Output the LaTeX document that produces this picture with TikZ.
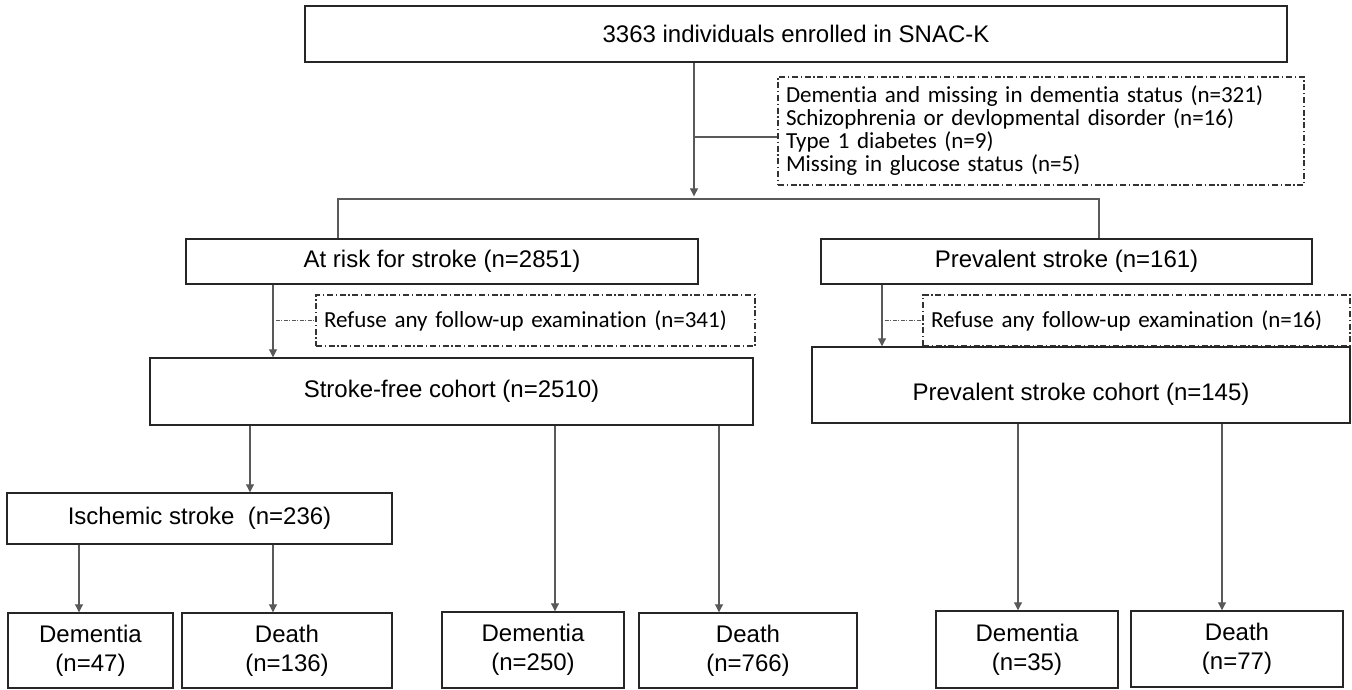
\documentclass[tikz,border=0pt]{standalone}
\usepackage{fontspec}
\setmainfont{Liberation Sans}
\newfontfamily\calfont[Ligatures=NoCommon]{Carlito}
\usetikzlibrary{arrows.meta}
\begin{document}
\begin{tikzpicture}[x=0.75pt,y=-0.75pt,
  box/.style={draw=black!85, line width=1.1pt, fill=white, inner sep=0pt,
    font=\fontsize{18}{21.5}\selectfont, align=center},
  dbox/.style={draw=black!80, line width=0.9pt, dash pattern=on 4.5pt off 2pt on 1pt off 2pt,
    inner xsep=6pt, inner ysep=0pt, font=\calfont\fontsize{17.25}{17.25}\selectfont, align=left},
  conn/.style={draw=black!65, line width=0.8pt},
  arr/.style={conn, -{Triangle[length=6pt,width=6pt]}},
  dotl/.style={draw=black!65, line width=0.6pt, dash pattern=on 1pt off 1pt on 3pt off 1pt}
]
\fill[white] (0,0) rectangle (1352,689);
\useasboundingbox (0,0) rectangle (1352,689);

% boxes
\node[box, minimum width=736.5pt, minimum height=42pt] (top) at (796,34) {3363 individuals enrolled in SNAC-K};
\node[dbox, text width=382.5pt, minimum height=81pt] (excl) at (1041,131)
  {Dementia and missing in dementia status (n=321)\\Schizophrenia or devlopmental disorder (n=16)\\Type 1 diabetes (n=9)\\Missing in glucose status (n=5)};
\node[box, minimum width=384pt, minimum height=33.75pt] (atrisk) at (442,261.5) {At risk for stroke (n=2851)};
\node[box, minimum width=368.25pt, minimum height=33.75pt] (prev) at (1066.5,261.5) {Prevalent stroke (n=161)};
\node[dbox, text width=317.25pt, minimum height=38.25pt] (refuse1) at (535.5,320.5) {Refuse any follow-up examination (n=341)};
\node[dbox, text width=308.25pt, minimum height=38.25pt] (refuse2) at (1136.5,320.5) {Refuse any follow-up examination (n=16)};
\node[box, minimum width=452.25pt, minimum height=50.25pt] (sfc) at (451.5,391.5) {Stroke-free cohort (n=2510)};
\node[box, minimum width=403.5pt, minimum height=57pt, text height=23pt, text depth=0pt] (pcohort) at (1081,385) {Prevalent stroke cohort (n=145)};
\node[box, minimum width=288.75pt, minimum height=38.25pt] (isch) at (199.5,518.5) {Ischemic stroke\ \ (n=236)};
\node[box, minimum width=123.75pt, minimum height=56.25pt] (dem1) at (90.5,650.5) {Dementia\\(n=47)};
\node[box, minimum width=157.5pt, minimum height=56.25pt] (dea1) at (287,650.5) {Death\\(n=136)};
\node[box, minimum width=136.5pt, minimum height=57pt] (dem2) at (533,650) {Dementia\\(n=250)};
\node[box, minimum width=163.5pt, minimum height=56.25pt] (dea2) at (748,650.5) {Death\\(n=766)};
\node[box, minimum width=136.5pt, minimum height=57.75pt] (dem3) at (1027,649.5) {Dementia\\(n=35)};
\node[box, minimum width=159pt, minimum height=57pt] (dea3) at (1237,649) {Death\\(n=77)};

% junction coordinates
\coordinate (ja) at (694,199);
\coordinate (jb) at (694,137);
\coordinate (ba) at (338,199);
\coordinate (bb) at (1099,199);
\coordinate (xa) at (273,0);
\coordinate (xb) at (882,0);
\coordinate (xc) at (250,0);
\coordinate (xd) at (555,0);
\coordinate (xe) at (719,0);
\coordinate (xf) at (79,0);
\coordinate (xg) at (273,0);
\coordinate (xh) at (1018,0);
\coordinate (xi) at (1222,0);

% connectors
\draw[arr, shorten >=2pt] (top.south -| ja) -- (ja);
\draw[conn] (jb) -- (jb -| excl.west);
\draw[conn] (atrisk.north -| ba) -- (ba) -- (bb) -- (prev.north -| bb);
\draw[arr] (atrisk.south -| xa) -- (sfc.north -| xa);
\draw[dotl] (refuse1.west -| xa) -- (refuse1.west);
\draw[arr] (prev.south -| xb) -- (pcohort.north -| xb);
\draw[dotl] (refuse2.west -| xb) -- (refuse2.west);
\draw[arr] (sfc.south -| xc) -- (isch.north -| xc);
\draw[arr] (sfc.south -| xd) -- (dem2.north -| xd);
\draw[arr] (sfc.south -| xe) -- (dea2.north -| xe);
\draw[arr] (isch.south -| xf) -- (dem1.north -| xf);
\draw[arr] (isch.south -| xg) -- (dea1.north -| xg);
\draw[arr] (pcohort.south -| xh) -- (dem3.north -| xh);
\draw[arr] (pcohort.south -| xi) -- (dea3.north -| xi);
\end{tikzpicture}
\end{document}
